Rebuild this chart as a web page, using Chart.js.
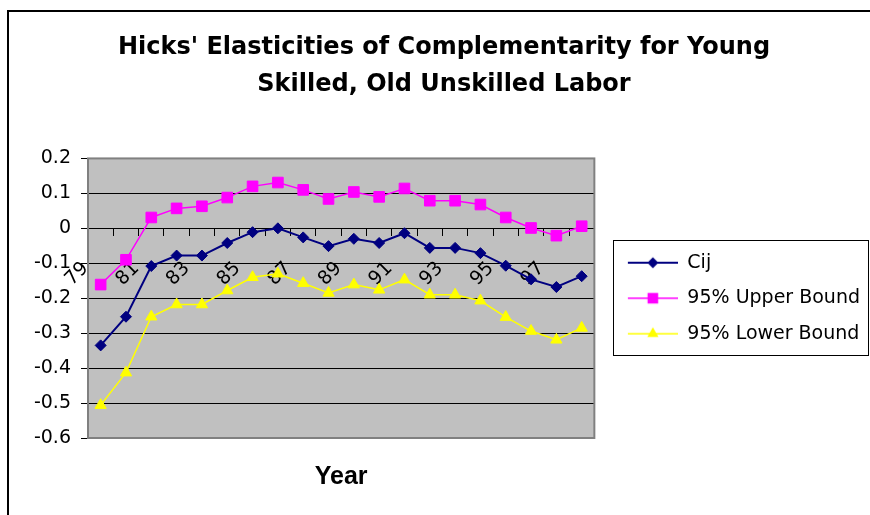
<!DOCTYPE html>
<html>
<head>
<meta charset="utf-8">
<script src="https://cdn.jsdelivr.net/npm/chart.js@4.4.0/dist/chart.umd.min.js"></script>
<style>
  html, body { margin: 0; padding: 0; background: #fff; overflow: hidden; }
  #wrap { position: relative; width: 870px; height: 515px; }
  /* outer chart frame, only top and left edges show in the picture */
  .frame { position: absolute; left: 7px; top: 10px; width: 900px; height: 600px;
           border-top: 2px solid #000; border-left: 2px solid #000; }
  canvas { position: absolute; left: 0; top: 0; }
</style>
</head>
<body>
<div id="wrap">
  <div class="frame"></div>
  <canvas id="chart" width="870" height="515"></canvas>
</div>
<script>
// data
const years = ['79','80','81','82','83','84','85','86','87','88','89','90','91','92','93','94','95','96','97','98'];
const cij = [-0.335, -0.253, -0.108, -0.078, -0.078, -0.042, -0.011, 0.000, -0.026, -0.051,
             -0.030, -0.042, -0.014, -0.056, -0.056, -0.071, -0.107, -0.146, -0.168, -0.137];
const upperBound = [-0.161, -0.090, 0.031, 0.057, 0.063, 0.088, 0.120, 0.131, 0.110, 0.084,
                    0.104, 0.090, 0.114, 0.079, 0.079, 0.068, 0.031, 0.001, -0.021, 0.006];
const lowerBound = [-0.506, -0.413, -0.253, -0.218, -0.218, -0.178, -0.140, -0.130, -0.157, -0.185,
                    -0.161, -0.176, -0.147, -0.190, -0.190, -0.207, -0.254, -0.294, -0.319, -0.285];
const seriesNames = ['Cij', '95% Upper Bound', '95% Lower Bound'];
const titleLines = ["Hicks' Elasticities of Complementarity for Young", 'Skilled, Old Unskilled Labor'];
const xTitle = 'Year';
const yMin = -0.6, yMax = 0.2, yStep = 0.1;

const tickFont = { family: 'DejaVu Sans', size: 19 };
const swatchW = 67;

// legend icon: line with the marker in the middle, like Excel
function makeSwatch(color, shape, lw) {
  const c = document.createElement('canvas');
  c.width = swatchW; c.height = 16;
  const g = c.getContext('2d');
  const cx = swatchW - 25, cy = 8;
  g.strokeStyle = color; g.lineWidth = lw;
  g.beginPath(); g.moveTo(swatchW - 50, cy); g.lineTo(swatchW, cy); g.stroke();
  g.fillStyle = color;
  g.beginPath();
  if (shape === 'rectRot') {
    g.moveTo(cx - 5.5, cy); g.lineTo(cx, cy - 5.5); g.lineTo(cx + 5.5, cy); g.lineTo(cx, cy + 5.5);
  } else if (shape === 'rect') {
    g.rect(cx - 5.3, cy - 5.3, 10.6, 10.6);
  } else {
    g.moveTo(cx, cy - 6.5); g.lineTo(cx + 5.6, cy + 3.3); g.lineTo(cx - 5.6, cy + 3.3);
  }
  g.closePath(); g.fill();
  return c;
}

const plotBg = {
  id: 'plotBg',
  beforeDraw(chart) {
    const a = chart.chartArea, ctx = chart.ctx;
    ctx.save();
    ctx.fillStyle = '#c0c0c0';
    ctx.fillRect(a.left, a.top, a.right - a.left, a.bottom - a.top);
    ctx.restore();
  },
  beforeDatasetsDraw(chart) {
    const a = chart.chartArea, ctx = chart.ctx;
    ctx.save();
    ctx.strokeStyle = '#808080';
    ctx.lineWidth = 2;
    ctx.strokeRect(a.left, a.top, a.right - a.left, a.bottom - a.top);
    ctx.restore();
  },
  afterDraw(chart) {
    // box around the legend
    const hb = chart.legend.legendHitBoxes;
    if (!hb || !hb.length) return;
    const ctx = chart.ctx;
    const last = hb[hb.length - 1];
    const x0 = hb[0].left + 2.5, x1 = chart.width - 1.5;
    const y0 = hb[0].top - 13.5, y1 = last.top + last.height + 11.5;
    ctx.save();
    ctx.strokeStyle = '#000';
    ctx.lineWidth = 1;
    ctx.strokeRect(Math.round(x0) + 0.5, Math.round(y0) + 0.5, Math.round(x1 - x0), Math.round(y1 - y0));
    ctx.restore();
  }
};

new Chart(document.getElementById('chart'), {
  type: 'line',
  data: {
    labels: years,
    datasets: [
      { label: seriesNames[0], data: cij, borderColor: '#000080', backgroundColor: '#000080',
        borderWidth: 2, pointStyle: 'rectRot', pointRadius: 5.5, pointBorderWidth: 1, tension: 0 },
      { label: seriesNames[1], data: upperBound, borderColor: '#ff00ff', backgroundColor: '#ff00ff',
        borderWidth: 1.5, pointStyle: 'rect', pointRadius: 7.5, pointBorderWidth: 1, tension: 0 },
      { label: seriesNames[2], data: lowerBound, borderColor: '#ffff00', backgroundColor: '#ffff00',
        borderWidth: 1.5, pointStyle: 'triangle', pointRadius: 6.5, pointBorderWidth: 1, tension: 0 }
    ]
  },
  options: {
    responsive: false,
    animation: false,
    devicePixelRatio: 1,
    layout: { padding: { left: 18, right: 0, top: 0, bottom: 1 } },
    scales: {
      x: {
        type: 'category',
        position: { y: 0 },
        offset: true,
        grid: { display: true, drawOnChartArea: false, drawTicks: true, tickLength: 7, color: '#000', offset: true },
        border: { display: true, color: '#000', width: 1 },
        ticks: {
          autoSkip: false, minRotation: 45, maxRotation: 45, color: '#000', font: tickFont,
          padding: 22, labelOffset: -15,
          callback: function(val, i) { return i % 2 === 0 ? this.getLabelForValue(val) : ''; }
        }
      },
      x2: {
        type: 'category',
        position: 'bottom',
        labels: years,
        grid: { display: false },
        border: { display: false },
        ticks: { display: false },
        title: { display: true, text: xTitle, color: '#000',
                 font: { family: 'Liberation Sans', size: 25, weight: 'bold' },
                 padding: { top: 16, bottom: 22 } }
      },
      y: {
        min: yMin, max: yMax,
        afterFit(scale) { scale.width = 70; },
        grid: { color: '#000', lineWidth: 1, drawTicks: true, tickLength: 7, tickColor: '#000' },
        border: { display: false },
        ticks: {
          stepSize: yStep, color: '#000', font: tickFont, padding: 10,
          callback: v => (Math.abs(v) < 1e-9 ? '0' : v.toFixed(1))
        }
      }
    },
    plugins: {
      title: {
        display: true, text: titleLines, color: '#000',
        font: { family: 'DejaVu Sans', size: 24, weight: 'bold', lineHeight: 1.54 },
        padding: { top: 29.5, bottom: 55 }
      },
      legend: {
        position: 'right',
        fullSize: false,
        maxWidth: 320,
        labels: {
          usePointStyle: true, pointStyleWidth: swatchW, padding: 16.5, color: '#000', font: tickFont,
          generateLabels(chart) {
            return chart.data.datasets.map((ds, i) => ({
              text: ds.label,
              pointStyle: makeSwatch(ds.borderColor, ds.pointStyle, ds.borderWidth),
              fillStyle: ds.backgroundColor, strokeStyle: ds.borderColor,
              lineWidth: 0, hidden: false, datasetIndex: i
            }));
          }
        }
      },
      tooltip: { enabled: false }
    }
  },
  plugins: [plotBg]
});
</script>
</body>
</html>
